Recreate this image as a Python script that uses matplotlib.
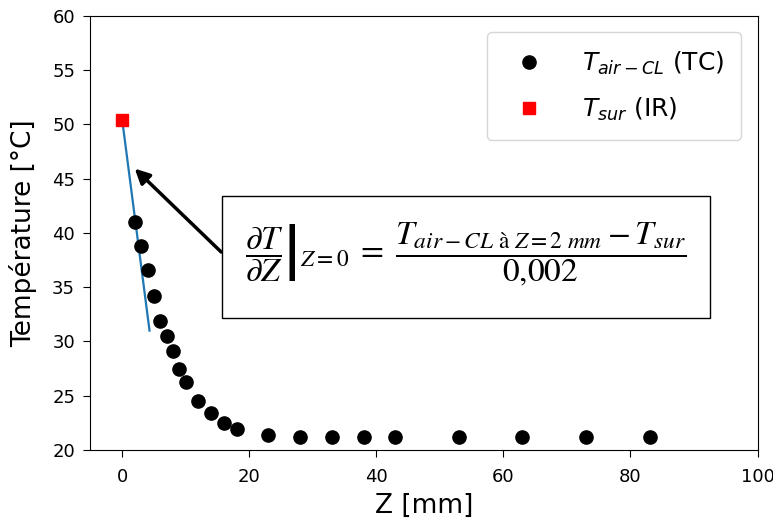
import numpy as np
import matplotlib
matplotlib.use('Agg')
import matplotlib.pyplot as plt
from matplotlib.patches import Rectangle

# Thermocouple profile (air, centre line)
z_tc = [2, 3, 4, 5, 6, 7, 8, 9, 10, 12, 14, 16, 18, 23, 28, 33, 38, 43, 53, 63, 73, 83]
t_tc = [41.0, 38.8, 36.6, 34.2, 31.9, 30.5, 29.1, 27.5, 26.3, 24.5, 23.4, 22.5, 21.9,
        21.4, 21.2, 21.2, 21.2, 21.2, 21.2, 21.2, 21.2, 21.2]

# Infrared surface temperature
z_ir = [0]
t_ir = [50.4]

# Gradient line at the wall
z_grad = [0, 4.3]
t_grad = [50.4, 31.0]

fig = plt.figure(figsize=(7.73, 5.2), dpi=100)
ax = fig.add_axes([0.117, 0.1346, 0.863, 0.835])

ax.plot(z_tc, t_tc, 'o', color='black', markersize=9.5, label=r'$T_{air-CL}$ (TC)')
ax.plot(z_ir, t_ir, 's', color='red', markersize=9, label=r'$T_{sur}$ (IR)')
ax.plot(z_grad, t_grad, color='#1f77b4', linewidth=1.6, zorder=1)

ax.set_xlim(-5, 100)
ax.set_ylim(20, 60)
ax.set_xticks([0, 20, 40, 60, 80, 100])
ax.set_yticks([20, 25, 30, 35, 40, 45, 50, 55, 60])
ax.tick_params(labelsize=13, length=5)
ax.tick_params(axis='x', pad=8)
ax.tick_params(axis='y', pad=6)
ax.set_xlabel('Z [mm]', fontsize=19)
ax.set_ylabel('Température [°C]', fontsize=19)
ax.xaxis.set_label_coords(0.5, -0.099)
ax.yaxis.set_label_coords(-0.080, 0.5)

ax.legend(loc='upper right', borderpad=0.7, labelspacing=0.75,
          handletextpad=1.1, borderaxespad=0.65, prop={'size': 18})

# arrow towards the gradient line
ax.annotate('', xy=(1.66, 46.1), xytext=(15.9, 38.06),
            arrowprops=dict(arrowstyle='-|>', color='black', lw=2.5, mutation_scale=22))

# formula box
ax.add_patch(Rectangle((0.287, 0.388), 0.631, 0.235, transform=fig.transFigure,
                       facecolor='white', edgecolor='black', lw=1, clip_on=False, zorder=4))
formula = (r'$\left.\dfrac{\partial T}{\partial Z}\right|_{Z=0}'
           r'\;=\;\dfrac{T_{air-CL\ \mathrm{à}\ Z=2\ mm} - T_{sur}}{0{,}002}$')
ax.text(0.317, 0.512, formula, transform=fig.transFigure, fontsize=24,
        va='center', ha='left', math_fontfamily='stix', zorder=5)

fig.savefig('out.png', dpi=100)
